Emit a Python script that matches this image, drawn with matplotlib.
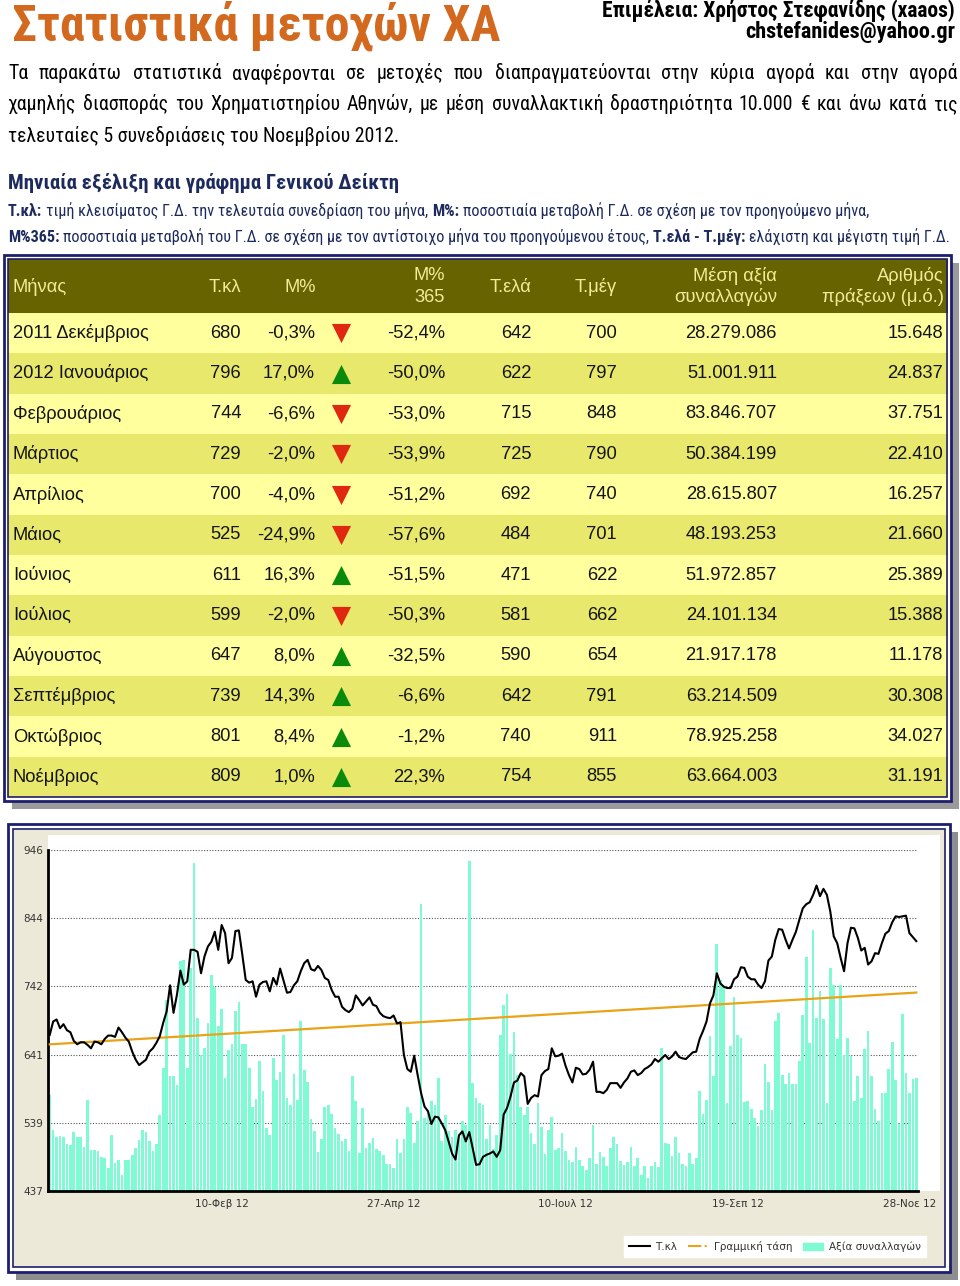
import numpy as np
import matplotlib
matplotlib.use('Agg')
import matplotlib.pyplot as plt
from matplotlib import font_manager
from matplotlib.patches import Rectangle
from matplotlib.lines import Line2D

W, H = 960, 1286

# monthly table
months = ['2011 Δεκέμβριος', '2012 Ιανουάριος', 'Φεβρουάριος', 'Μάρτιος', 'Απρίλιος', 'Μάιος',
          'Ιούνιος', 'Ιούλιος', 'Αύγουστος', 'Σεπτέμβριος', 'Οκτώβριος', 'Νοέμβριος']
t_close = [680, 796, 744, 729, 700, 525, 611, 599, 647, 739, 801, 809]
m_pct = [-0.3, 17.0, -6.6, -2.0, -4.0, -24.9, 16.3, -2.0, 8.0, 14.3, 8.4, 1.0]
m365_pct = [-52.4, -50.0, -53.0, -53.9, -51.2, -57.6, -51.5, -50.3, -32.5, -6.6, -1.2, 22.3]
t_min = [642, 622, 715, 725, 692, 484, 471, 581, 590, 642, 740, 754]
t_max = [700, 797, 848, 790, 740, 701, 622, 662, 654, 791, 911, 855]
avg_value = [28279086, 51001911, 83846707, 50384199, 28615807, 48193253,
             51972857, 24101134, 21917178, 63214509, 78925258, 63664003]
avg_trades = [15648, 24837, 37751, 22410, 16257, 21660, 25389, 15388, 11178, 30308, 34027, 31191]

# daily closing of the general index (Dec 2011 - Nov 2012)
close_idx = [
    670, 690, 693, 680, 686, 677, 674, 661, 656, 659, 659, 655, 650, 660, 659, 656, 664, 669, 669, 667,
    681, 674, 666, 660, 645, 633, 625, 629, 633, 645, 650, 658, 668, 688, 705, 744, 703, 730, 766, 745,
    750, 797,
    797, 794, 762, 787, 802, 809, 824, 797, 834, 822, 777, 785, 825, 826, 790, 752, 748, 750, 727, 745,
    749, 750, 735, 755, 745, 769, 751, 733, 734, 744, 750, 765, 777, 782, 768, 766, 773, 767, 755, 752,
    737, 727,
    727, 712, 707, 704, 709, 729, 722, 714, 720, 726, 715, 713, 703, 698, 696, 695, 699, 687, 689, 640,
    619, 615, 639, 610, 583, 563, 556, 537, 548, 547, 538, 528, 511, 493, 484, 520, 526, 511, 525, 501,
    476, 477,
    488, 491, 493, 496, 488, 498, 551, 561, 578, 599, 602, 613, 608, 567, 576, 580, 578, 610, 616, 619,
    650, 638, 639, 642, 624, 610, 599, 621, 619, 611, 612, 618, 630, 585, 585, 583, 588, 598, 598, 598,
    591, 599,
    605, 615, 617, 610, 613, 619, 622, 626, 634, 630, 635, 640, 634, 638, 645, 637, 635, 634, 639, 644,
    645, 664, 676, 690, 717, 729, 762, 747, 742, 740, 740, 753, 757, 771, 770, 757, 753, 753, 745, 740,
    750, 781,
    787, 812, 828, 827, 812, 799, 812, 824, 842, 859, 865, 868, 879, 893, 877, 888, 879, 854, 817, 807,
    785, 765, 807, 830, 829, 815, 796, 800, 775, 780, 792, 791, 807, 821, 825, 838, 847, 846, 847, 848,
    822, 816, 810]

# daily traded value, as drawn against the index scale
volume = [
    580, 528, 518, 519, 518, 507, 505, 525, 518, 517, 503, 573, 498, 498, 497, 488, 486, 472, 521, 479,
    483, 461, 483, 484, 490, 501, 513, 528, 525, 511, 496, 507, 550, 621, 722, 608, 609, 595, 781, 782,
    621, 770,
    927, 695, 640, 651, 688, 759, 742, 683, 708, 605, 648, 656, 706, 719, 656, 656, 621, 563, 575, 631,
    587, 531, 521, 635, 603, 614, 670, 576, 565, 611, 573, 691, 618, 599, 545, 527, 495, 515, 563, 566,
    552, 531,
    522, 511, 515, 496, 608, 571, 493, 561, 501, 508, 516, 500, 496, 490, 477, 477, 472, 515, 493, 515,
    563, 553, 508, 542, 865, 546, 558, 572, 565, 605, 511, 551, 526, 518, 528, 521, 542, 536, 929, 598,
    576, 568,
    565, 515, 535, 500, 521, 670, 715, 731, 641, 674, 610, 563, 550, 563, 523, 507, 568, 533, 492, 528,
    548, 498, 501, 523, 496, 483, 480, 502, 483, 475, 468, 486, 536, 477, 495, 488, 475, 501, 518, 507,
    482, 476,
    481, 502, 475, 487, 461, 475, 456, 475, 481, 473, 650, 509, 507, 489, 518, 493, 477, 475, 493, 478,
    487, 586, 552, 573, 668, 609, 806, 752, 742, 568, 654, 727, 670, 666, 570, 571, 559, 546, 534, 558,
    626, 600,
    558, 691, 702, 610, 596, 613, 596, 596, 631, 700, 786, 658, 827, 695, 735, 694, 569, 770, 745, 664,
    744, 640, 665, 638, 572, 609, 576, 649, 676, 608, 559, 542, 584, 584, 619, 659, 603, 537, 701, 613,
    583, 604, 606]

x_tick_pos = [50, 100, 150, 200, 250]
x_tick_labels = ['10-Φεβ 12', '27-Απρ 12', '10-Ιουλ 12', '19-Σεπ 12', '28-Νοε 12']
y_lo, y_hi = 437, 946

NAVY = '#1E1E6E'
BEIGE = '#ECE9D8'
AQUA = '#7FFAD2'
ORANGE = '#E8A317'

have = {f.name for f in font_manager.fontManager.ttflist}
narrow = next((f for f in ['Liberation Sans Narrow', 'Roboto Condensed', 'Open Sans Condensed']
               if f in have), 'Liberation Sans')
regular = 'Liberation Sans'


def gr_int(n):
    return f'{n:,}'.replace(',', '.')


def gr_pct(v):
    return f'{v:.1f}%'.replace('.', ',')


fig = plt.figure(figsize=(W / 100, H / 100), dpi=100)
page = fig.add_axes([0, 0, 1, 1])
page.set_xlim(0, W)
page.set_ylim(H, 0)
page.axis('off')
rend = fig.canvas.get_renderer()


def width(t):
    return t.get_window_extent(rend).width


def fit_text(x, y, s, target, size, **kw):
    t = page.text(x, y, s, fontsize=size, va='baseline', **kw)
    t.set_fontsize(size * target / width(t))
    return t


def draw_runs(x, y, parts, size, color, family):
    sp = page.text(0, 0, 'a a', fontsize=size, family=family)
    nsp = page.text(0, 0, 'aa', fontsize=size, family=family)
    gap = width(sp) - width(nsp)
    sp.remove()
    nsp.remove()
    texts = []
    for txt, bold in parts:
        t = page.text(x, y, txt, fontsize=size, family=family, color=color, va='baseline',
                      fontweight='bold' if bold else 'normal')
        x += width(t) + gap
        texts.append(t)
    return texts, x - gap


def justify(y, s, x0, x1, size, **kw):
    words = s.split()
    ts = [page.text(0, y, w, fontsize=size, va='baseline', **kw) for w in words]
    ws = [width(t) for t in ts]
    gap = (x1 - x0 - sum(ws)) / (len(words) - 1)
    x = x0
    for t, w in zip(ts, ws):
        t.set_x(x)
        x += w + gap


# ---------- header ----------
title = page.text(12, 40, 'Στατιστικά μετοχών ΧΑ', fontsize=36, va='baseline', color='#D2691E',
                  fontweight='bold', family=narrow)
if width(title) > 526:
    title.set_fontsize(36 * 526 / width(title))
fit_text(955, 17, 'Επιμέλεια: Χρήστος Στεφανίδης (xaaos)', 352, 13, ha='right',
         fontweight='bold', family=narrow, color='black')
fit_text(955, 38, 'chstefanides@yahoo.gr', 210, 13, ha='right', fontweight='bold',
         family=narrow, color='black')

p3 = fit_text(8, 142, 'τελευταίες 5 συνεδριάσεις του Νοεμβρίου 2012.', 390, 13,
              family=narrow, color='black')
psize = p3.get_fontsize()
justify(79, 'Τα παρακάτω στατιστικά αναφέρονται σε μετοχές που διαπραγματεύονται στην κύρια αγορά '
        'και στην αγορά', 8, 958, psize, family=narrow, color='black')
justify(110, 'χαμηλής διασποράς του Χρηματιστηρίου Αθηνών, με μέση συναλλακτική δραστηριότητα '
        '10.000 € και άνω κατά τις', 8, 958, psize, family=narrow, color='black')

fit_text(8, 188, 'Μηνιαία εξέλιξη και γράφημα Γενικού Δείκτη', 389, 13, fontweight='bold',
         family=narrow, color='#1C2A5E')

defs1 = [('Τ.κλ:', True), ('τιμή κλεισίματος Γ.Δ. την τελευταία συνεδρίαση του μήνα,', False),
         ('Μ%:', True), ('ποσοστιαία μεταβολή Γ.Δ. σε σχέση με τον προηγούμενο μήνα,', False)]
defs2 = [('Μ%365:', True),
         ('ποσοστιαία μεταβολή του Γ.Δ. σε σχέση με τον αντίστοιχο μήνα του προηγούμενου έτους,', False),
         ('Τ.ελά - Τ.μέγ:', True), ('ελάχιστη και μέγιστη τιμή Γ.Δ.', False)]
ts, xe = draw_runs(8, 242, defs2, 10, '#1C2A5E', narrow)
dsize = 10 * (946 - 8) / (xe - 8)
for t in ts:
    t.remove()
draw_runs(8, 216, defs1, dsize, '#1C2A5E', narrow)
draw_runs(8, 242, defs2, dsize, '#1C2A5E', narrow)

# ---------- table ----------
tx0, tx1, ty0, ty1 = 4, 951, 255, 801
page.add_patch(Rectangle((tx0 + 8, ty0 + 8), tx1 - tx0, ty1 - ty0, color='#9A9A9A', lw=0))
page.add_patch(Rectangle((tx0, ty0), tx1 - tx0, ty1 - ty0, facecolor='white', edgecolor=NAVY, lw=2))
page.add_patch(Rectangle((tx0 + 4, ty0 + 4), tx1 - tx0 - 8, ty1 - ty0 - 8, facecolor='none',
                         edgecolor=NAVY, lw=1.2, zorder=3))
head_top, head_bot = 259, 313
page.add_patch(Rectangle((8, head_top), 940, head_bot - head_top, color='#666300', lw=0))
row_h = (797 - head_bot) / len(months)
row_cols = ['#FFFF9E', '#E8E86C']
tsz = 13.2
hc = '#F2EC9A'
hk = dict(fontsize=tsz, family=regular, color=hc, va='center')
page.text(13, 287, 'Μήνας', ha='left', **hk)
page.text(241, 287, 'Τ.κλ', ha='right', **hk)
page.text(316, 287, 'Μ%', ha='right', **hk)
page.text(445, 276, 'Μ%', ha='right', **hk)
page.text(445, 297, '365', ha='right', **hk)
page.text(531, 287, 'Τ.ελά', ha='right', **hk)
page.text(617, 287, 'Τ.μέγ', ha='right', **hk)
page.text(777, 276, 'Μέση αξία', ha='right', **hk)
page.text(777, 297, 'συναλλαγών', ha='right', **hk)
page.text(944, 276, 'Αριθμός', ha='right', **hk)
page.text(944, 297, 'πράξεων (μ.ό.)', ha='right', **hk)

rk = dict(fontsize=tsz, family=regular, color='#141414', va='center')
centers = []
for i, m in enumerate(months):
    top = head_bot + row_h * i
    yc = top + row_h / 2
    centers.append(yc)
    page.add_patch(Rectangle((8, top), 940, row_h, color=row_cols[i % 2], lw=0))
    page.text(13, yc, m, ha='left', **rk)
    page.text(241, yc, str(t_close[i]), ha='right', **rk)
    page.text(315, yc, gr_pct(m_pct[i]), ha='right', **rk)
    page.text(445, yc, gr_pct(m365_pct[i]), ha='right', **rk)
    page.text(531, yc, str(t_min[i]), ha='right', **rk)
    page.text(617, yc, str(t_max[i]), ha='right', **rk)
    page.text(777, yc, gr_int(avg_value[i]), ha='right', **rk)
    page.text(943, yc, gr_int(avg_trades[i]), ha='right', **rk)
centers = np.array(centers)
up = np.array(m_pct) > 0
page.scatter(np.full(up.sum(), 341), centers[up], marker='^', s=190, color='#0A8A0A', lw=0, zorder=4)
page.scatter(np.full((~up).sum(), 341), centers[~up], marker='v', s=190, color='#E02810', lw=0, zorder=4)

# ---------- chart panel ----------
cx0, cx1, cy0, cy1 = 8, 950, 824, 1272
page.add_patch(Rectangle((cx0 + 8, cy0 + 8), cx1 - cx0, cy1 - cy0, color='#8E8E8E', lw=0))
page.add_patch(Rectangle((cx0, cy0), cx1 - cx0, cy1 - cy0, facecolor='white', edgecolor=NAVY, lw=2))
page.add_patch(Rectangle((cx0 + 5, cy0 + 5), cx1 - cx0 - 10, cy1 - cy0 - 10, facecolor=BEIGE,
                         edgecolor=NAVY, lw=1.2))
page.add_patch(Rectangle((48, 835), 892, 356, color='white', lw=0))

ax = fig.add_axes([48 / W, 1 - 1191 / H, 870 / W, 341 / H])
ax.set_facecolor('none')
days = np.arange(len(close_idx))
ax.bar(days, volume, width=0.78, color=AQUA, zorder=2)
coef = np.polyfit(days, close_idx, 1)
ax.plot(days, np.polyval(coef, days), color=ORANGE, lw=1.6, zorder=3)
ax.plot(days, close_idx, color='black', lw=1.5, zorder=4)
ax.set_xlim(-0.5, len(days) - 0.5)
ax.set_ylim(y_lo, y_hi)
yt = np.linspace(y_lo, y_hi, 6)
ax.set_yticks(yt)
ax.set_yticklabels([f'{v:.0f}' for v in yt], family='DejaVu Sans')
ax.set_xticks(x_tick_pos)
ax.set_xticklabels(x_tick_labels, family='DejaVu Sans')
ax.set_axisbelow(True)
ax.grid(axis='y', ls=(0, (1, 1.5)), color='#555555', lw=0.8)
for s in ['top', 'right']:
    ax.spines[s].set_visible(False)
for s in ['left', 'bottom']:
    ax.spines[s].set_linewidth(2)
ax.tick_params(length=0, labelsize=7.5, labelcolor='#333333')
ax.tick_params(axis='y', pad=3.5)
ax.tick_params(axis='x', pad=6)

handles = [Line2D([], [], color='black', lw=1.5),
           Line2D([], [], color=ORANGE, lw=1.5, ls='-.'),
           Rectangle((0, 0), 1, 1, color=AQUA)]
leg = fig.legend(handles, ['Τ.κλ', 'Γραμμική τάση', 'Αξία συναλλαγών'], loc='center',
                 bbox_to_anchor=(775 / W, 1 - 1246.5 / H), ncol=3, frameon=True,
                 fancybox=False, edgecolor='white', handlelength=2.0, columnspacing=1.0,
                 handletextpad=0.5, borderpad=0.5, prop={'family': 'DejaVu Sans', 'size': 7.5})
for t in leg.get_texts():
    t.set_color('#333333')
leg.get_frame().set_alpha(1)

fig.savefig('out.png', dpi=100)
